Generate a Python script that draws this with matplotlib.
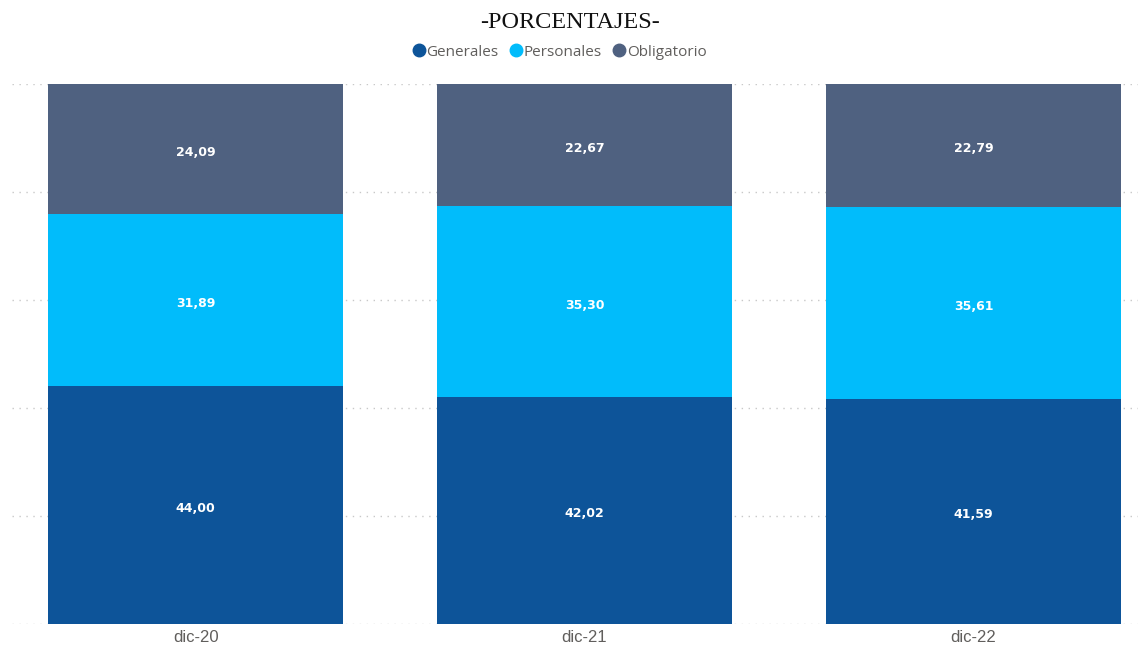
import matplotlib
matplotlib.use("Agg")
import matplotlib.pyplot as plt
from matplotlib.lines import Line2D

categories = ["dic-20", "dic-21", "dic-22"]
generales = [44.00, 42.02, 41.59]
personales = [31.89, 35.30, 35.61]
obligatorio = [24.09, 22.67, 22.79]
series_names = ["Generales", "Personales", "Obligatorio"]
colors = ["#0D5499", "#01BCFB", "#4F6180"]

fig = plt.figure(figsize=(11.4, 6.48), dpi=100)
ax = fig.add_axes([12/1140, 24/648, (1138-12)/1140, 540/648])

x = list(range(len(categories)))
width = 0.758
bottom = [0.0] * len(categories)
for vals, col in zip([generales, personales, obligatorio], colors):
    ax.bar(x, vals, width=width, bottom=bottom, color=col, zorder=3, linewidth=0)
    for xi, v, b in zip(x, vals, bottom):
        ax.text(xi, b + v / 2 - 0.6, f"{v:.2f}".replace(".", ","), ha="center", va="center",
                color="white", fontsize=9, fontweight="bold", family="DejaVu Sans", zorder=4)
    bottom = [b + v for b, v in zip(bottom, vals)]

ax.set_xlim(-0.472, 2.423)
ax.set_ylim(0, 100)
ax.set_yticks([0, 20, 40, 60, 80, 100])
ax.yaxis.grid(True, linestyle=(0, (1, 4)), color="#C8C8C8", linewidth=1, zorder=0)
ax.set_yticklabels([])
ax.tick_params(axis="y", length=0)
ax.set_xticks(x)
ax.set_xticklabels(categories, fontsize=12, color="#605E5C", family="Liberation Sans")
ax.tick_params(axis="x", length=0, pad=4)
for s in ax.spines.values():
    s.set_visible(False)

fig.text(0.5, 1 - 23/648, "-PORCENTAJES-", ha="center", va="center",
         fontsize=17.5, family="Liberation Serif", color="#111111")

handles = [Line2D([0], [0], marker="o", linestyle="", markersize=9,
                  markerfacecolor=c, markeredgecolor=c) for c in colors]
fig.legend(handles, series_names, loc="center", bbox_to_anchor=(560/1140, 1 - 52/648),
           ncol=3, frameon=False, handlelength=0.7, handletextpad=0.15, columnspacing=0.8,
           labelcolor="#605E5C", prop={"family": "Open Sans", "size": 11})

fig.savefig("out.png", dpi=100)
